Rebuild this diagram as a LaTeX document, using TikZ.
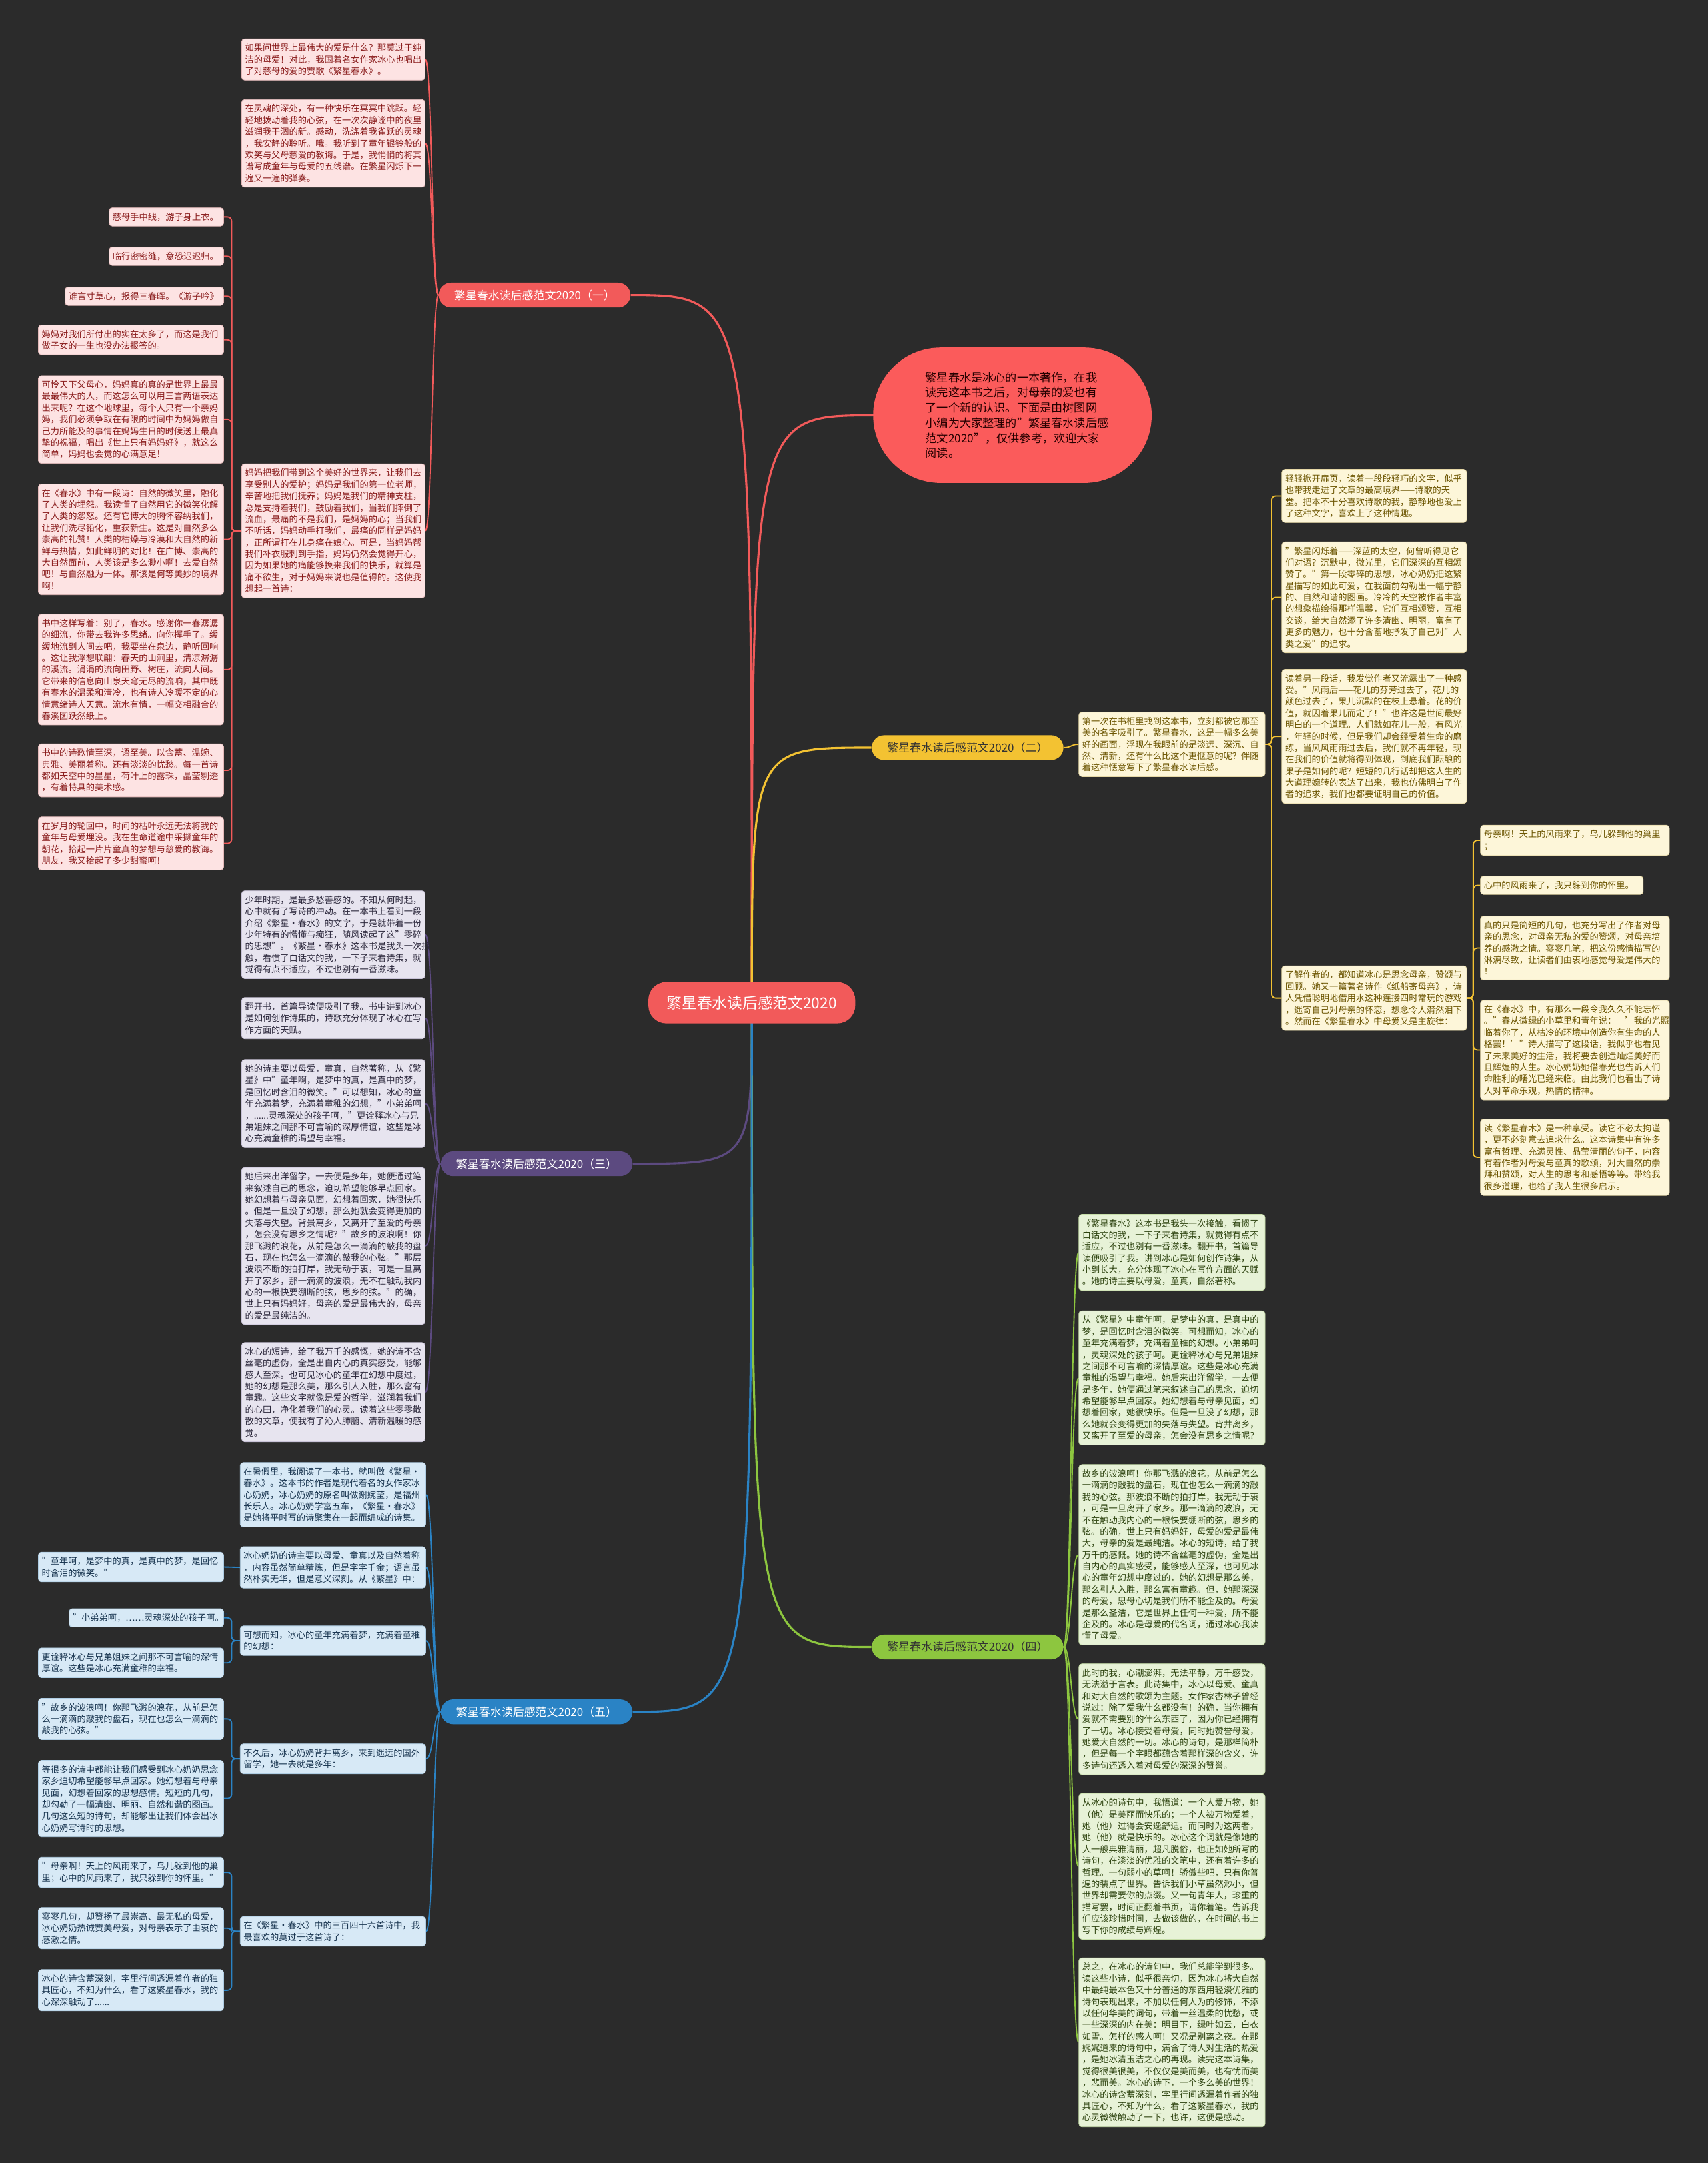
\documentclass[tikz,border=0pt]{standalone}
\usepackage{fontspec}
\setmainfont{Noto Sans CJK SC}
\usetikzlibrary{calc}
\definecolor{bgc}{HTML}{2B2B2B}
\definecolor{cR}{HTML}{F25A5A}
\definecolor{cRi}{HTML}{FB5B5B}
\definecolor{rfill}{HTML}{FDE3E3}
\definecolor{rdraw}{HTML}{E3B9B9}
\definecolor{rtext}{HTML}{8A1C1C}
\definecolor{cY}{HTML}{F3C232}
\definecolor{yfill}{HTML}{FDF6D9}
\definecolor{ydraw}{HTML}{E6D8A6}
\definecolor{ytext}{HTML}{6B5400}
\definecolor{cP}{HTML}{5C4A80}
\definecolor{pfill}{HTML}{E7E4EF}
\definecolor{pdraw}{HTML}{C9C3D8}
\definecolor{ptext}{HTML}{2C283C}
\definecolor{cG}{HTML}{8DC63F}
\definecolor{gfill}{HTML}{E7F2D7}
\definecolor{gdraw}{HTML}{C6DDA8}
\definecolor{gtext}{HTML}{2E4410}
\definecolor{cB}{HTML}{2A83C5}
\definecolor{bfill}{HTML}{D7E9F6}
\definecolor{bdraw}{HTML}{AFCDE3}
\definecolor{btext}{HTML}{18344F}
\newcommand\bxf{\fontsize{6.4}{8.4}\selectfont}
\newcommand\lblf{\fontsize{8.2}{9}\selectfont}
\pgfdeclarelayer{back}
\pgfdeclarelayer{lines}
\pgfsetlayers{back,lines,main}
\newcommand\cvv[3]{\draw[#1] let \p1=(#2), \p2=(#3) in (\p1) .. controls ({(\x1+\x2)/2},\y1) and ({(\x1+\x2)/2},\y2) .. (\p2);}
\newcommand\mcv[3]{\draw[#1] let \p1=(#2), \p2=(#3) in (\p1) .. controls (\x1,\y2) .. (\p2);}
\newcommand\elb[4]{\draw[#1, rounded corners=3pt] (#2) -- (#2 -| #3) |- (#4);}
\tikzset{
 bx/.style={rectangle, rounded corners=2.2pt, anchor=north west, align=left, inner xsep=2.5pt, inner ysep=3.6pt, font=\bxf, line width=0.4pt},
 rbx/.style={bx, fill=rfill, draw=rdraw, text=rtext},
 ybx/.style={bx, fill=yfill, draw=ydraw, text=ytext},
 pbx/.style={bx, fill=pfill, draw=pdraw, text=ptext},
 gbx/.style={bx, fill=gfill, draw=gdraw, text=gtext},
 bbx/.style={bx, fill=bfill, draw=bdraw, text=btext},
 lbl/.style={rectangle, rounded corners=9pt, minimum height=18pt, minimum width=139pt, font=\lblf, inner sep=0pt},
 mainln/.style={line width=1.5pt},
 subln/.style={line width=0.9pt},
}
\begin{document}
\begin{tikzpicture}[x=1pt,y=-1pt]
\begin{pgfonlayer}{back}
\fill[bgc] (0,0) rectangle (1238,1568);
\end{pgfonlayer}
\useasboundingbox (0,0) rectangle (1238,1568);

% center and intro
\node[rectangle, rounded corners=13pt, fill=cR, text=white, minimum width=150pt, minimum height=30pt, inner sep=0pt, font=\fontsize{11}{12}\selectfont] (ctr) at (545,727) {繁星春水读后感范文2020};
\node[rectangle, rounded corners=49pt, fill=cRi, minimum width=202pt, minimum height=98pt, text width=126pt, align=left, inner sep=0pt, text=black!85!red, font=\fontsize{8.3}{11}\selectfont] (intro) at (734,301) {繁星春水是冰心的一本著作，在我\\读完这本书之后，对母亲的爱也有\\了一个新的认识。下面是由树图网\\小编为大家整理的"繁星春水读后感\\范文2020"，仅供参考，欢迎大家\\阅读。};

% branch labels
\node[lbl, fill=cR, text=white] (l1) at (387.5,214) {繁星春水读后感范文2020（一）};
\node[lbl, fill=cY, text=black!80] (l2) at (701.5,542) {繁星春水读后感范文2020（二）};
\node[lbl, fill=cP, text=white] (l3) at (389,843.5) {繁星春水读后感范文2020（三）};
\node[lbl, fill=cG, text=black!80] (l4) at (701.5,1194) {繁星春水读后感范文2020（四）};
\node[lbl, fill=cB, text=white] (l5) at (389,1241) {繁星春水读后感范文2020（五）};

% ---------- red branch
\node[rbx, text width=128pt] (r1) at (175,28) {如果问世界上最伟大的爱是什么？那莫过于纯\\洁的母爱！对此，我国着名女作家冰心也唱出\\了对慈母的爱的赞歌《繁星春水》。};
\node[rbx, text width=128pt] (r2) at (175,72) {在灵魂的深处，有一种快乐在冥冥中跳跃。轻\\轻地拨动着我的心弦，在一次次静谧中的夜里\\滋润我干涸的新。感动，洗涤着我雀跃的灵魂\\，我安静的聆听。哦。我听到了童年银铃般的\\欢笑与父母慈爱的教诲。于是，我悄悄的将其\\谱写成童年与母爱的五线谱。在繁星闪烁下一\\遍又一遍的弹奏。};
\node[rbx, text width=128pt] (r3) at (175,336) {妈妈把我们带到这个美好的世界来，让我们去\\享受别人的爱护；妈妈是我们的第一位老师，\\辛苦地把我们抚养；妈妈是我们的精神支柱，\\总是支持着我们，鼓励着我们，当我们摔倒了\\流血，最痛的不是我们，是妈妈的心；当我们\\不听话，妈妈动手打我们，最痛的同样是妈妈\\，正所谓打在儿身痛在娘心。可是，当妈妈帮\\我们补衣服刺到手指，妈妈仍然会觉得开心，\\因为如果她的痛能够换来我们的快乐，就算是\\痛不欲生，对于妈妈来说也是值得的。这使我\\想起一首诗：};
\node[rbx, text width=78pt] (r3a) at (79,150.5) {慈母手中线，游子身上衣。};
\node[rbx, text width=78pt] (r3b) at (79,179) {临行密密缝，意恐迟迟归。};
\node[rbx, text width=110pt] (r3c) at (47,208) {谁言寸草心，报得三春晖。《游子吟》};
\node[rbx, text width=129.4pt] (r3d) at (27.6,235.5) {妈妈对我们所付出的实在太多了，而这是我们\\做子女的一生也没办法报答的。};
\node[rbx, text width=129.4pt] (r3e) at (27.6,272) {可怜天下父母心，妈妈真的真的是世界上最最\\最最伟大的人，而这怎么可以用三言两语表达\\出来呢？在这个地球里，每个人只有一个亲妈\\妈，我们必须争取在有限的时间中为妈妈做自\\己力所能及的事情在妈妈生日的时候送上最真\\挚的祝福，唱出《世上只有妈妈好》，就这么\\简单，妈妈也会觉的心满意足！};
\node[rbx, text width=129.4pt] (r3f) at (27.6,350.6) {在《春水》中有一段诗：自然的微笑里，融化\\了人类的埋怨。我读懂了自然用它的微笑化解\\了人类的怨怒。还有它博大的胸怀容纳我们，\\让我们洗尽铅化，重获新生。这是对自然多么\\崇高的礼赞！人类的枯燥与冷漠和大自然的新\\鲜与热情，如此鲜明的对比！在广博、崇高的\\大自然面前，人类该是多么渺小啊！去爱自然\\吧！与自然融为一体。那该是何等美妙的境界\\啊！};
\node[rbx, text width=129.4pt] (r3g) at (27.6,445) {书中这样写着：别了，春水。感谢你一春潺潺\\的细流，你带去我许多思绪。向你挥手了。缓\\缓地流到人间去吧，我要坐在泉边，静听回响\\。这让我浮想联翩：春天的山涧里，清凉潺潺\\的溪流。涓涓的流向田野、树庄，流向人间。\\它带来的信息向山泉天穹无尽的流响，其中既\\有春水的温柔和清冷，也有诗人冷暖不定的心\\情意绪诗人天意。流水有情，一幅交相融合的\\春溪图跃然纸上。};
\node[rbx, text width=129.4pt] (r3h) at (27.6,539) {书中的诗歌情至深，语至美。以含蓄、温婉、\\典雅、美丽着称。还有淡淡的忧愁。每一首诗\\都如天空中的星星，荷叶上的露珠，晶莹剔透\\，有着特具的美术感。};
\node[rbx, text width=129.4pt] (r3i) at (27.6,592) {在岁月的轮回中，时间的枯叶永远无法将我的\\童年与母爱埋没。我在生命道途中采撷童年的\\朝花，拾起一片片童真的梦想与慈爱的教诲。\\朋友，我又拾起了多少甜蜜呵！};

% ---------- yellow branch
\node[ybx, text width=130pt] (y0) at (782,516) {第一次在书柜里找到这本书，立刻都被它那至\\美的名字吸引了。繁星春水，这是一幅多么美\\好的画面，浮现在我眼前的是淡远、深沉、自\\然、清新，还有什么比这个更惬意的呢？伴随\\着这种惬意写下了繁星春水读后感。};
\node[ybx, text width=129pt] (y1) at (929,340) {轻轻掀开扉页，读着一段段轻巧的文字，似乎\\也带我走进了文章的最高境界——诗歌的天\\堂。把本不十分喜欢诗歌的我，静静地也爱上\\了这种文字，喜欢上了这种情趣。};
\node[ybx, text width=129pt] (y2) at (929,392.6) {"繁星闪烁着——深蓝的太空，何曾听得见它\\们对语？沉默中，微光里，它们深深的互相颂\\赞了。"第一段零碎的思想，冰心奶奶把这繁\\星描写的如此可爱，在我面前勾勒出一幅宁静\\的、自然和谐的图画。冷冷的天空被作者丰富\\的想象描绘得那样温馨，它们互相颂赞，互相\\交谈，给大自然添了许多清幽、明丽，富有了\\更多的魅力，也十分含蓄地抒发了自己对"人\\类之爱"的追求。};
\node[ybx, text width=129pt] (y3) at (929,485) {读着另一段话，我发觉作者又流露出了一种感\\受。"风雨后——花儿的芬芳过去了，花儿的\\颜色过去了，果儿沉默的在枝上悬着。花的价\\值，就因着果儿而定了！"也许这是世间最好\\明白的一个道理。人们就如花儿一般，有风光\\，年轻的时候，但是我们却会经受着生命的磨\\练，当风风雨雨过去后，我们就不再年轻，现\\在我们的价值就将得到体现，到底我们酝酿的\\果子是如何的呢？短短的几行话却把这人生的\\大道理婉转的表达了出来，我也仿佛明白了作\\者的追求，我们也都要证明自己的价值。};
\node[ybx, text width=129pt] (y4) at (929,700) {了解作者的，都知道冰心是思念母亲，赞颂与\\回顾。她又一篇著名诗作《纸船寄母亲》，诗\\人凭借聪明地借用水这种连接四时常玩的游戏\\，遥寄自己对母亲的怀恋，想念令人潸然泪下\\。然而在《繁星春水》中母爱又是主旋律：};
\node[ybx, text width=132pt] (y5) at (1073,598) {母亲啊！天上的风雨来了，鸟儿躲到他的巢里\\；};
\node[ybx, text width=113pt] (y6) at (1073,635) {心中的风雨来了，我只躲到你的怀里。};
\node[ybx, text width=132pt] (y7) at (1073,664) {真的只是简短的几句，也充分写出了作者对母\\亲的思念，对母亲无私的爱的赞颂，对母亲培\\养的感激之情。寥寥几笔，把这份感情描写的\\淋漓尽致，让读者们由衷地感觉母爱是伟大的\\！};
\node[ybx, text width=132pt] (y8) at (1073,725) {在《春水》中，有那么一段令我久久不能忘怀\\。"春从微绿的小草里和青年说：　'我的光照\\临着你了，从枯冷的环境中创造你有生命的人\\格罢！'"诗人描写了这段话，我似乎也看见\\了未来美好的生活，我将要去创造灿烂美好而\\且辉煌的人生。冰心奶奶她借春光也告诉人们\\命胜利的曙光已经来临。由此我们也看出了诗\\人对革命乐观，热情的精神。};
\node[ybx, text width=132pt] (y9) at (1073,811) {读《繁星春木》是一种享受。读它不必太拘谨\\，更不必刻意去追求什么。这本诗集中有许多\\富有哲理、充满灵性、晶莹清丽的句子，内容\\有着作者对母爱与童真的歌颂，对大自然的崇\\拜和赞颂，对人生的思考和感悟等等。带给我\\很多道理，也给了我人生很多启示。};

% ---------- purple branch
\node[pbx, text width=128pt] (p1) at (175,645.6) {少年时期，是最多愁善感的。不知从何时起，\\心中就有了写诗的冲动。在一本书上看到一段\\介绍《繁星·春水》的文字，于是就带着一份\\少年特有的懵懂与痴狂，随风读起了这"零碎\\的思想"。《繁星·春水》这本书是我头一次接\\触，看惯了白话文的我，一下子来看诗集，就\\觉得有点不适应，不过也别有一番滋味。};
\node[pbx, text width=128pt] (p2) at (175,723) {翻开书，首篇导读便吸引了我。书中讲到冰心\\是如何创作诗集的，诗歌充分体现了冰心在写\\作方面的天赋。};
\node[pbx, text width=128pt] (p3) at (175,768) {她的诗主要以母爱，童真，自然著称，从《繁\\星》中"童年啊，是梦中的真，是真中的梦，\\是回忆时含泪的微笑。"可以想知，冰心的童\\年充满着梦，充满着童稚的幻想，"小弟弟呵\\，......灵魂深处的孩子呵，"更诠释冰心与兄\\弟姐妹之间那不可言喻的深厚情谊，这些是冰\\心充满童稚的渴望与幸福。};
\node[pbx, text width=128pt] (p4) at (175,846) {她后来出洋留学，一去便是多年，她便通过笔\\来叙述自己的思念，迫切希望能够早点回家。\\她幻想着与母亲见面，幻想着回家，她很快乐\\。但是一旦没了幻想，那么她就会变得更加的\\失落与失望。背景离乡，又离开了至爱的母亲\\，怎会没有思乡之情呢？"故乡的波浪啊！你\\那飞溅的浪花，从前是怎么一滴滴的敲我的盘\\石，现在也怎么一滴滴的敲我的心弦。"那层\\波浪不断的拍打岸，我无动于衷，可是一旦离\\开了家乡，那一滴滴的波浪，无不在触动我内\\心的一根快要绷断的弦，思乡的弦。"的确，\\世上只有妈妈好，母亲的爱是最伟大的，母亲\\的爱是最纯洁的。};
\node[pbx, text width=128pt] (p5) at (175,973) {冰心的短诗，给了我万千的感慨，她的诗不含\\丝毫的虚伪，全是出自内心的真实感受，能够\\感人至深。也可见冰心的童年在幻想中度过，\\她的幻想是那么美，那么引人入胜，那么富有\\童趣。这些文字就像是爱的哲学，滋润着我们\\的心田，净化着我们的心灵。读着这些零零散\\散的文章，使我有了沁人肺腑、清新温暖的感\\觉。};

% ---------- green branch
\node[gbx, text width=130pt] (g1) at (782,880) {《繁星春水》这本书是我头一次接触，看惯了\\白话文的我，一下子来看诗集，就觉得有点不\\适应，不过也别有一番滋味。翻开书，首篇导\\读便吸引了我。讲到冰心是如何创作诗集，从\\小到长大，充分体现了冰心在写作方面的天赋\\。她的诗主要以母爱，童真，自然著称。};
\node[gbx, text width=130pt] (g2) at (782,950) {从《繁星》中童年呵，是梦中的真，是真中的\\梦，是回忆时含泪的微笑。可想而知，冰心的\\童年充满着梦，充满着童稚的幻想。小弟弟呵\\，灵魂深处的孩子呵。更诠释冰心与兄弟姐妹\\之间那不可言喻的深情厚谊。这些是冰心充满\\童稚的渴望与幸福。她后来出洋留学，一去便\\是多年，她便通过笔来叙述自己的思念，迫切\\希望能够早点回家。她幻想着与母亲见面，幻\\想着回家，她很快乐。但是一旦没了幻想，那\\么她就会变得更加的失落与失望。背井离乡，\\又离开了至爱的母亲，怎会没有思乡之情呢？};
\node[gbx, text width=130pt] (g3) at (782,1061.5) {故乡的波浪呵！你那飞溅的浪花，从前是怎么\\一滴滴的敲我的盘石，现在也怎么一滴滴的敲\\我的心弦。那波浪不断的拍打岸，我无动于衷\\，可是一旦离开了家乡。那一滴滴的波浪，无\\不在触动我内心的一根快要绷断的弦，思乡的\\弦。的确，世上只有妈妈好，母爱的爱是最伟\\大，母亲的爱是最纯洁。冰心的短诗，给了我\\万千的感慨。她的诗不含丝毫的虚伪，全是出\\自内心的真实感受，能够感人至深，也可见冰\\心的童年幻想中度过的，她的幻想是那么美，\\那么引人入胜，那么富有童趣。但，她那深深\\的母爱，思母心切是我们所不能企及的。母爱\\是那么圣洁，它是世界上任何一种爱，所不能\\企及的。冰心是母爱的代名词，通过冰心我读\\懂了母爱。};
\node[gbx, text width=130pt] (g4) at (782,1206) {此时的我，心潮澎湃，无法平静，万千感受，\\无法溢于言表。此诗集中，冰心以母爱、童真\\和对大自然的歌颂为主题。女作家杏林子曾经\\说过：除了爱我什么都没有！的确，当你拥有\\爱就不需要别的什么东西了，因为你已经拥有\\了一切。冰心接受着母爱，同时她赞誉母爱，\\她爱大自然的一切。冰心的诗句，是那样简朴\\，但是每一个字眼都蕴含着那样深的含义，许\\多诗句还透入着对母爱的深深的赞誉。};
\node[gbx, text width=130pt] (g5) at (782,1300) {从冰心的诗句中，我悟道：一个人爱万物，她\\（他）是美丽而快乐的；一个人被万物爱着，\\她（他）过得会安逸舒适。而同时为这两者，\\她（他）就是快乐的。冰心这个词就是像她的\\人一般典雅清丽，超凡脱俗，也正如她所写的\\诗句，在淡淡的优雅的文笔中，还有着许多的\\哲理。一句弱小的草呵！骄傲些吧，只有你普\\遍的装点了世界。告诉我们小草虽然渺小，但\\世界却需要你的点缀。又一句青年人，珍重的\\描写罢，时间正翻着书页，请你着笔。告诉我\\们应该珍惜时间，去做该做的，在时间的书上\\写下你的成绩与辉煌。};
\node[gbx, text width=130pt] (g6) at (782,1419) {总之，在冰心的诗句中，我们总能学到很多。\\读这些小诗，似乎很亲切，因为冰心将大自然\\中最纯最本色又十分普通的东西用轻淡优雅的\\诗句表现出来，不加以任何人为的修饰，不添\\以任何华美的词句，带着一丝温柔的忧愁，或\\一些深深的内在美：明目下，绿叶如云，白衣\\如雪。怎样的感人呵！又况是别离之夜。在那\\娓娓道来的诗句中，满含了诗人对生活的热爱\\，是她冰清玉洁之心的再现。读完这本诗集，\\觉得很美很美，不仅仅是美而美，也有忧而美\\，悲而美。冰心的诗下，一个多么美的世界！\\冰心的诗含蓄深刻，字里行间透漏着作者的独\\具匠心，不知为什么，看了这繁星春水，我的\\心灵微微触动了一下，也许，这便是感动。};

% ---------- blue branch
\node[bbx, text width=129.5pt] (b1) at (174,1060) {在暑假里，我阅读了一本书，就叫做《繁星·\\春水》。这本书的作者是现代着名的女作家冰\\心奶奶，冰心奶奶的原名叫做谢婉莹，是福州\\长乐人。冰心奶奶学富五车，《繁星·春水》\\是她将平时写的诗聚集在一起而编成的诗集。};
\node[bbx, text width=129.5pt] (b2) at (174,1121) {冰心奶奶的诗主要以母爱、童真以及自然着称\\，内容虽然简单精炼，但是字字千金；语言虽\\然朴实无华，但是意义深刻。从《繁星》中：};
\node[bbx, text width=129.4pt] (b2c) at (27.6,1125) {"童年呵，是梦中的真，是真中的梦，是回忆\\时含泪的微笑。"};
\node[bbx, text width=129.5pt] (b3) at (174,1178.5) {可想而知，冰心的童年充满着梦，充满着童稚\\的幻想：};
\node[bbx, text width=107pt] (b3a) at (50,1166) {"小弟弟呵，……灵魂深处的孩子呵。"};
\node[bbx, text width=129.4pt] (b3b) at (27.6,1194.5) {更诠释冰心与兄弟姐妹之间那不可言喻的深情\\厚谊。这些是冰心充满童稚的幸福。};
\node[bbx, text width=129.5pt] (b4) at (174,1264) {不久后，冰心奶奶背井离乡，来到遥远的国外\\留学，她一去就是多年：};
\node[bbx, text width=129.4pt] (b4a) at (27.6,1231) {"故乡的波浪呵！你那飞溅的浪花，从前是怎\\么一滴滴的敲我的盘石，现在也怎么一滴滴的\\敲我的心弦。"};
\node[bbx, text width=129.4pt] (b4b) at (27.6,1276) {等很多的诗中都能让我们感受到冰心奶奶思念\\家乡迫切希望能够早点回家。她幻想着与母亲\\见面，幻想着回家的思想感情。短短的几句，\\却勾勒了一幅清幽、明丽、自然和谐的图画。\\几句这么短的诗句，却能够出让我们体会出冰\\心奶奶写诗时的思想。};
\node[bbx, text width=129.5pt] (b5) at (174,1389) {在《繁星·春水》中的三百四十六首诗中，我\\最喜欢的莫过于这首诗了：};
\node[bbx, text width=129.4pt] (b5a) at (27.6,1346) {"母亲啊！天上的风雨来了，鸟儿躲到他的巢\\里；心中的风雨来了，我只躲到你的怀里。"};
\node[bbx, text width=129.4pt] (b5b) at (27.6,1382.5) {寥寥几句，却赞扬了最崇高、最无私的母爱，\\冰心奶奶热诚赞美母爱，对母亲表示了由衷的\\感激之情。};
\node[bbx, text width=129.4pt] (b5c) at (27.6,1427.5) {冰心的诗含蓄深刻，字里行间透漏着作者的独\\具匠心，不知为什么，看了这繁星春水，我的\\心深深触动了......};

% trunk coordinates
\coordinate (tR) at (168,0);
\coordinate (tY) at (922,0);
\coordinate (tY2) at (1068,0);
\coordinate (tB) at (168,0);

\begin{pgfonlayer}{lines}
% main
\mcv{cR,mainln}{ctr}{intro.west}
\mcv{cR,mainln}{ctr}{l1.east}
\mcv{cY,mainln}{ctr}{l2.west}
\mcv{cP,mainln}{ctr}{l3.east}
\mcv{cG,mainln}{ctr}{l4.west}
\mcv{cB,mainln}{ctr}{l5.east}
% red
\cvv{cR,subln}{l1.west}{r1.east}
\cvv{cR,subln}{l1.west}{r2.east}
\cvv{cR,subln}{l1.west}{r3.east}
\foreach \c in {r3a,r3b,r3c,r3d,r3e,r3f,r3g,r3h,r3i}{\elb{cR,subln}{r3.west}{tR}{\c.east}}
% yellow
\cvv{cY,subln}{l2.east}{y0.west}
\foreach \c in {y1,y2,y3,y4}{\elb{cY,subln}{y0.east}{tY}{\c.west}}
\foreach \c in {y5,y6,y7,y8,y9}{\elb{cY,subln}{y4.east}{tY2}{\c.west}}
% purple
\foreach \c in {p1,p2,p3,p4,p5}{\cvv{cP,subln}{l3.west}{\c.east}}
% green
\foreach \c in {g1,g2,g3,g4,g5,g6}{\cvv{cG,subln}{l4.east}{\c.west}}
% blue
\foreach \c in {b1,b2,b3,b4,b5}{\cvv{cB,subln}{l5.west}{\c.east}}
\cvv{cB,subln}{b2.west}{b2c.east}
\foreach \c in {b3a,b3b}{\elb{cB,subln}{b3.west}{tB}{\c.east}}
\foreach \c in {b4a,b4b}{\elb{cB,subln}{b4.west}{tB}{\c.east}}
\foreach \c in {b5a,b5b,b5c}{\elb{cB,subln}{b5.west}{tB}{\c.east}}
\end{pgfonlayer}
\end{tikzpicture}
\end{document}
